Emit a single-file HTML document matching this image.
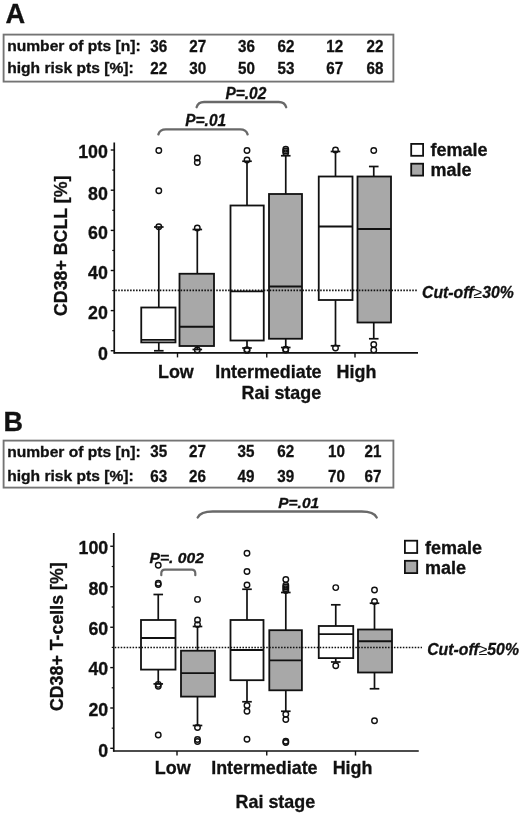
<!DOCTYPE html>
<html lang="en"><head><meta charset="utf-8"><title>CD38 expression by Rai stage</title>
<style>
html,body{margin:0;padding:0;background:#fff;}
body{width:520px;height:815px;overflow:hidden;}
svg{display:block;will-change:transform;opacity:0.999;}
svg text{font-family:'Liberation Sans', Arial, sans-serif;font-weight:bold;fill:#111;stroke:#111;stroke-width:0.3px;}
</style></head>
<body>
<svg width="520" height="815" viewBox="0 0 520 815">
<rect width="520" height="815" fill="#fff"/>
<text x="5.6" y="23" font-size="27.2" text-anchor="start">A</text>
<rect x="3.6" y="34.6" width="389.8" height="47" fill="#fff" stroke="#747474" stroke-width="1.85"/>
<text x="7.2" y="51.0" font-size="14.6" text-anchor="start" textLength="133.45" lengthAdjust="spacingAndGlyphs" stroke-width="0.45">number of pts [n]:</text>
<text x="150.3" y="51.7" font-size="16.3" text-anchor="start" textLength="16.91" lengthAdjust="spacingAndGlyphs" stroke-width="0.4">36</text>
<text x="189.2" y="51.7" font-size="16.3" text-anchor="start" textLength="16.91" lengthAdjust="spacingAndGlyphs" stroke-width="0.4">27</text>
<text x="238" y="51.7" font-size="16.3" text-anchor="start" textLength="16.91" lengthAdjust="spacingAndGlyphs" stroke-width="0.4">36</text>
<text x="277.5" y="51.7" font-size="16.3" text-anchor="start" textLength="16.91" lengthAdjust="spacingAndGlyphs" stroke-width="0.4">62</text>
<text x="326.2" y="51.7" font-size="16.3" text-anchor="start" textLength="16.91" lengthAdjust="spacingAndGlyphs" stroke-width="0.4">12</text>
<text x="366.6" y="51.7" font-size="16.3" text-anchor="start" textLength="16.91" lengthAdjust="spacingAndGlyphs" stroke-width="0.4">22</text>
<text x="7.2" y="72.9" font-size="14.6" text-anchor="start" textLength="126.54" lengthAdjust="spacingAndGlyphs" stroke-width="0.45">high risk pts [%]:</text>
<text x="150.3" y="73.6" font-size="16.3" text-anchor="start" textLength="16.91" lengthAdjust="spacingAndGlyphs" stroke-width="0.4">22</text>
<text x="189.2" y="73.6" font-size="16.3" text-anchor="start" textLength="16.91" lengthAdjust="spacingAndGlyphs" stroke-width="0.4">30</text>
<text x="238" y="73.6" font-size="16.3" text-anchor="start" textLength="16.91" lengthAdjust="spacingAndGlyphs" stroke-width="0.4">50</text>
<text x="277.5" y="73.6" font-size="16.3" text-anchor="start" textLength="16.91" lengthAdjust="spacingAndGlyphs" stroke-width="0.4">53</text>
<text x="326.2" y="73.6" font-size="16.3" text-anchor="start" textLength="16.91" lengthAdjust="spacingAndGlyphs" stroke-width="0.4">67</text>
<text x="366.6" y="73.6" font-size="16.3" text-anchor="start" textLength="16.91" lengthAdjust="spacingAndGlyphs" stroke-width="0.4">68</text>
<text x="225.4" y="98.5" font-size="15.8" text-anchor="start" font-style="italic" textLength="40.94" lengthAdjust="spacingAndGlyphs">P=.02</text>
<path d="M196.6,107.2 C197.50,103.98 200.35,102 204.1,102 L278.7,102 C282.45,102 285.30,103.98 286.2,107.2" fill="none" stroke="#696969" stroke-width="2.35" stroke-linecap="round"/>
<text x="185.2" y="126.3" font-size="15.8" text-anchor="start" font-style="italic" textLength="40.94" lengthAdjust="spacingAndGlyphs">P=.01</text>
<path d="M158.4,134.3 C159.30,131.26 162.15,129.4 165.9,129.4 L240.1,129.4 C243.85,129.4 246.70,131.26 247.6,134.3" fill="none" stroke="#696969" stroke-width="2.35" stroke-linecap="round"/>
<line x1="114.25" y1="142.5" x2="114.25" y2="353.65" stroke="#111" stroke-width="1.7"/>
<line x1="113.75" y1="352.9" x2="418" y2="352.9" stroke="#111" stroke-width="1.7"/>
<line x1="110.75" y1="150" x2="114.25" y2="150" stroke="#111" stroke-width="1.4"/>
<line x1="110.75" y1="190.2" x2="114.25" y2="190.2" stroke="#111" stroke-width="1.4"/>
<line x1="110.75" y1="230.4" x2="114.25" y2="230.4" stroke="#111" stroke-width="1.4"/>
<line x1="110.75" y1="270.5" x2="114.25" y2="270.5" stroke="#111" stroke-width="1.4"/>
<line x1="110.75" y1="310.6" x2="114.25" y2="310.6" stroke="#111" stroke-width="1.4"/>
<line x1="110.75" y1="350.75" x2="114.25" y2="350.75" stroke="#111" stroke-width="1.4"/>
<line x1="112.25" y1="170.1" x2="114.25" y2="170.1" stroke="#111" stroke-width="1.2"/>
<line x1="112.25" y1="210.3" x2="114.25" y2="210.3" stroke="#111" stroke-width="1.2"/>
<line x1="112.25" y1="250.45" x2="114.25" y2="250.45" stroke="#111" stroke-width="1.2"/>
<line x1="112.25" y1="290.55" x2="114.25" y2="290.55" stroke="#111" stroke-width="1.2"/>
<line x1="112.25" y1="330.675" x2="114.25" y2="330.675" stroke="#111" stroke-width="1.2"/>
<line x1="177.5" y1="352.9" x2="177.5" y2="357.4" stroke="#111" stroke-width="1.4"/>
<line x1="266.75" y1="352.9" x2="266.75" y2="357.4" stroke="#111" stroke-width="1.4"/>
<line x1="355" y1="352.9" x2="355" y2="357.4" stroke="#111" stroke-width="1.4"/>
<text x="107.8" y="158.0" font-size="17.8" text-anchor="end">100</text>
<text x="107.8" y="199.5" font-size="17.8" text-anchor="end">80</text>
<text x="107.8" y="238.6" font-size="17.8" text-anchor="end">60</text>
<text x="107.8" y="278.8" font-size="17.8" text-anchor="end">40</text>
<text x="107.8" y="318.90000000000003" font-size="17.8" text-anchor="end">20</text>
<text x="107.8" y="359.95" font-size="17.8" text-anchor="end">0</text>
<text transform="translate(67.1,245.8) rotate(-90)" font-size="17.8" text-anchor="middle">CD38+ BCLL [%]</text>
<line x1="158.8" y1="227" x2="158.8" y2="307.5" stroke="#111" stroke-width="1.7"/>
<line x1="158.8" y1="342.4" x2="158.8" y2="350.75" stroke="#111" stroke-width="1.7"/>
<line x1="154.0" y1="227" x2="163.60000000000002" y2="227" stroke="#111" stroke-width="1.7"/>
<line x1="154.0" y1="350.75" x2="163.60000000000002" y2="350.75" stroke="#111" stroke-width="1.7"/>
<rect x="141.25" y="307.5" width="34.25" height="34.89999999999998" fill="#fff" stroke="#111" stroke-width="1.8"/>
<line x1="141.25" y1="339.8" x2="175.5" y2="339.8" stroke="#111" stroke-width="1.8"/>
<circle cx="158.8" cy="150.5" r="2.75" fill="#fff" fill-opacity="0" stroke="#111" stroke-width="1.4"/>
<circle cx="158.8" cy="190.75" r="2.75" fill="#fff" fill-opacity="0" stroke="#111" stroke-width="1.4"/>
<circle cx="158.8" cy="226.75" r="2.75" fill="#fff" fill-opacity="0" stroke="#111" stroke-width="1.4"/>
<line x1="197.3" y1="229.5" x2="197.3" y2="273.75" stroke="#111" stroke-width="1.7"/>
<line x1="197.3" y1="346" x2="197.3" y2="349.5" stroke="#111" stroke-width="1.7"/>
<line x1="192.5" y1="229.5" x2="202.10000000000002" y2="229.5" stroke="#111" stroke-width="1.7"/>
<line x1="192.5" y1="349.5" x2="202.10000000000002" y2="349.5" stroke="#111" stroke-width="1.7"/>
<rect x="179.5" y="273.75" width="34.5" height="72.25" fill="#a8a8a8" stroke="#111" stroke-width="1.8"/>
<line x1="179.5" y1="326.75" x2="214" y2="326.75" stroke="#111" stroke-width="1.8"/>
<circle cx="197.3" cy="158" r="2.75" fill="#fff" fill-opacity="0" stroke="#111" stroke-width="1.4"/>
<circle cx="197.3" cy="162.5" r="2.75" fill="#fff" fill-opacity="0" stroke="#111" stroke-width="1.4"/>
<circle cx="197.3" cy="228" r="2.75" fill="#fff" fill-opacity="0" stroke="#111" stroke-width="1.4"/>
<circle cx="197.3" cy="350" r="2.75" fill="#fff" fill-opacity="0" stroke="#111" stroke-width="1.4"/>
<line x1="247" y1="161.25" x2="247" y2="205.5" stroke="#111" stroke-width="1.7"/>
<line x1="247" y1="340.5" x2="247" y2="348" stroke="#111" stroke-width="1.7"/>
<line x1="242.2" y1="161.25" x2="251.8" y2="161.25" stroke="#111" stroke-width="1.7"/>
<line x1="242.2" y1="348" x2="251.8" y2="348" stroke="#111" stroke-width="1.7"/>
<rect x="230.5" y="205.5" width="33.25" height="135.0" fill="#fff" stroke="#111" stroke-width="1.8"/>
<line x1="230.5" y1="291.4" x2="263.75" y2="291.4" stroke="#111" stroke-width="1.8"/>
<circle cx="247" cy="150.5" r="2.75" fill="#fff" fill-opacity="0" stroke="#111" stroke-width="1.4"/>
<circle cx="247" cy="160" r="2.75" fill="#fff" fill-opacity="0" stroke="#111" stroke-width="1.4"/>
<circle cx="247" cy="349.6" r="2.75" fill="#fff" fill-opacity="0" stroke="#111" stroke-width="1.4"/>
<circle cx="247" cy="350.4" r="2.75" fill="#fff" fill-opacity="0" stroke="#111" stroke-width="1.4"/>
<line x1="285.75" y1="155.75" x2="285.75" y2="194" stroke="#111" stroke-width="1.7"/>
<line x1="285.75" y1="338.75" x2="285.75" y2="347.5" stroke="#111" stroke-width="1.7"/>
<line x1="280.95" y1="155.75" x2="290.55" y2="155.75" stroke="#111" stroke-width="1.7"/>
<line x1="280.95" y1="347.5" x2="290.55" y2="347.5" stroke="#111" stroke-width="1.7"/>
<rect x="269" y="194" width="33" height="144.75" fill="#a8a8a8" stroke="#111" stroke-width="1.8"/>
<line x1="269" y1="286.5" x2="302" y2="286.5" stroke="#111" stroke-width="1.8"/>
<circle cx="285.75" cy="149.3" r="2.75" fill="#fff" fill-opacity="0" stroke="#111" stroke-width="1.4"/>
<circle cx="285.75" cy="151" r="2.75" fill="#fff" fill-opacity="0" stroke="#111" stroke-width="1.4"/>
<circle cx="285.75" cy="152.8" r="2.75" fill="#fff" fill-opacity="0" stroke="#111" stroke-width="1.4"/>
<circle cx="285.75" cy="349.2" r="2.75" fill="#fff" fill-opacity="0" stroke="#111" stroke-width="1.4"/>
<circle cx="285.75" cy="350" r="2.75" fill="#fff" fill-opacity="0" stroke="#111" stroke-width="1.4"/>
<line x1="335.5" y1="151.5" x2="335.5" y2="176.5" stroke="#111" stroke-width="1.7"/>
<line x1="335.5" y1="300" x2="335.5" y2="345.75" stroke="#111" stroke-width="1.7"/>
<line x1="330.7" y1="151.5" x2="340.3" y2="151.5" stroke="#111" stroke-width="1.7"/>
<line x1="330.7" y1="345.75" x2="340.3" y2="345.75" stroke="#111" stroke-width="1.7"/>
<rect x="318.75" y="176.5" width="33.75" height="123.5" fill="#fff" stroke="#111" stroke-width="1.8"/>
<line x1="318.75" y1="226.5" x2="352.5" y2="226.5" stroke="#111" stroke-width="1.8"/>
<circle cx="335.5" cy="150" r="2.75" fill="#fff" fill-opacity="0" stroke="#111" stroke-width="1.4"/>
<circle cx="335.5" cy="348" r="2.75" fill="#fff" fill-opacity="0" stroke="#111" stroke-width="1.4"/>
<line x1="373.75" y1="166.5" x2="373.75" y2="176.5" stroke="#111" stroke-width="1.7"/>
<line x1="373.75" y1="322.5" x2="373.75" y2="338.75" stroke="#111" stroke-width="1.7"/>
<line x1="368.95" y1="166.5" x2="378.55" y2="166.5" stroke="#111" stroke-width="1.7"/>
<line x1="368.95" y1="338.75" x2="378.55" y2="338.75" stroke="#111" stroke-width="1.7"/>
<rect x="357.5" y="176.5" width="33.5" height="146.0" fill="#a8a8a8" stroke="#111" stroke-width="1.8"/>
<line x1="357.5" y1="229" x2="391" y2="229" stroke="#111" stroke-width="1.8"/>
<circle cx="373.75" cy="150.5" r="2.75" fill="#fff" fill-opacity="0" stroke="#111" stroke-width="1.4"/>
<circle cx="373.75" cy="344.5" r="2.75" fill="#fff" fill-opacity="0" stroke="#111" stroke-width="1.4"/>
<circle cx="373.75" cy="350" r="2.75" fill="#fff" fill-opacity="0" stroke="#111" stroke-width="1.4"/>
<line x1="115.25" y1="290.3" x2="417.5" y2="290.3" stroke="#111" stroke-width="1.65" stroke-dasharray="1.55 1.42"/>
<text x="158" y="377.8" font-size="17.9" text-anchor="start">Low</text>
<text x="215.2" y="377.8" font-size="17.9" text-anchor="start">Intermediate</text>
<text x="336.6" y="377.8" font-size="17.9" text-anchor="start">High</text>
<text x="241.6" y="399.4" font-size="17.9" text-anchor="start">Rai stage</text>
<rect x="411.2" y="143.9" width="11.9" height="11.9" fill="#fff" stroke="#111" stroke-width="1.8"/>
<rect x="411.2" y="163.7" width="11.9" height="11.9" fill="#a8a8a8" stroke="#111" stroke-width="1.8"/>
<text x="430.4" y="156" font-size="18" text-anchor="start">female</text>
<text x="430.4" y="176" font-size="18" text-anchor="start">male</text>
<text x="422" y="297.6" font-size="15.8" font-style="italic">Cut-off<tspan font-weight="normal" stroke-width="0">≥</tspan>30%</text>
<text x="3.6" y="431.2" font-size="27" text-anchor="start">B</text>
<rect x="3.6" y="440.6" width="389.8" height="47" fill="#fff" stroke="#747474" stroke-width="1.85"/>
<text x="7.2" y="457.4" font-size="14.6" text-anchor="start" textLength="133.45" lengthAdjust="spacingAndGlyphs" stroke-width="0.45">number of pts [n]:</text>
<text x="150.3" y="457.1" font-size="16.3" text-anchor="start" textLength="16.91" lengthAdjust="spacingAndGlyphs" stroke-width="0.4">35</text>
<text x="189" y="457.1" font-size="16.3" text-anchor="start" textLength="16.91" lengthAdjust="spacingAndGlyphs" stroke-width="0.4">27</text>
<text x="237.6" y="457.1" font-size="16.3" text-anchor="start" textLength="16.91" lengthAdjust="spacingAndGlyphs" stroke-width="0.4">35</text>
<text x="277.2" y="457.1" font-size="16.3" text-anchor="start" textLength="16.91" lengthAdjust="spacingAndGlyphs" stroke-width="0.4">62</text>
<text x="328" y="457.1" font-size="16.3" text-anchor="start" textLength="16.91" lengthAdjust="spacingAndGlyphs" stroke-width="0.4">10</text>
<text x="364.6" y="457.1" font-size="16.3" text-anchor="start" textLength="16.91" lengthAdjust="spacingAndGlyphs" stroke-width="0.4">21</text>
<text x="7.2" y="480.7" font-size="14.6" text-anchor="start" textLength="126.54" lengthAdjust="spacingAndGlyphs" stroke-width="0.45">high risk pts [%]:</text>
<text x="150.3" y="482.2" font-size="16.3" text-anchor="start" textLength="16.91" lengthAdjust="spacingAndGlyphs" stroke-width="0.4">63</text>
<text x="189" y="482.2" font-size="16.3" text-anchor="start" textLength="16.91" lengthAdjust="spacingAndGlyphs" stroke-width="0.4">26</text>
<text x="237.6" y="482.2" font-size="16.3" text-anchor="start" textLength="16.91" lengthAdjust="spacingAndGlyphs" stroke-width="0.4">49</text>
<text x="277.2" y="482.2" font-size="16.3" text-anchor="start" textLength="16.91" lengthAdjust="spacingAndGlyphs" stroke-width="0.4">39</text>
<text x="328" y="482.2" font-size="16.3" text-anchor="start" textLength="16.91" lengthAdjust="spacingAndGlyphs" stroke-width="0.4">70</text>
<text x="364.6" y="482.2" font-size="16.3" text-anchor="start" textLength="16.91" lengthAdjust="spacingAndGlyphs" stroke-width="0.4">67</text>
<text x="278.2" y="507.6" font-size="15.1" text-anchor="start" font-style="italic" textLength="40.94" lengthAdjust="spacingAndGlyphs">P=.01</text>
<path d="M197.7,517.4 C199.50,513.74 205.20,511.5 212.7,511.5 L361.7,511.5 C369.20,511.5 374.90,513.74 376.7,517.4" fill="none" stroke="#696969" stroke-width="2.35" stroke-linecap="round"/>
<text x="149.6" y="562.5" font-size="14.8" text-anchor="start" font-style="italic" textLength="54.21" lengthAdjust="spacingAndGlyphs">P=. 002</text>
<path d="M161.3,575.2 L161.3,573.3000000000001 Q161.3,569.7 164.9,569.7 L191.70000000000002,569.7 Q195.3,569.7 195.3,573.3000000000001 L195.3,575.2" fill="none" stroke="#696969" stroke-width="2.2" stroke-linecap="round"/>
<line x1="113.75" y1="533" x2="113.75" y2="751.75" stroke="#111" stroke-width="1.7"/>
<line x1="113.25" y1="751.0" x2="418.75" y2="751.0" stroke="#111" stroke-width="1.7"/>
<line x1="110.25" y1="546.25" x2="113.75" y2="546.25" stroke="#111" stroke-width="1.4"/>
<line x1="110.25" y1="586.75" x2="113.75" y2="586.75" stroke="#111" stroke-width="1.4"/>
<line x1="110.25" y1="627.25" x2="113.75" y2="627.25" stroke="#111" stroke-width="1.4"/>
<line x1="110.25" y1="667.6" x2="113.75" y2="667.6" stroke="#111" stroke-width="1.4"/>
<line x1="110.25" y1="708" x2="113.75" y2="708" stroke="#111" stroke-width="1.4"/>
<line x1="110.25" y1="748.3" x2="113.75" y2="748.3" stroke="#111" stroke-width="1.4"/>
<line x1="111.75" y1="566.5" x2="113.75" y2="566.5" stroke="#111" stroke-width="1.2"/>
<line x1="111.75" y1="607.0" x2="113.75" y2="607.0" stroke="#111" stroke-width="1.2"/>
<line x1="111.75" y1="647.425" x2="113.75" y2="647.425" stroke="#111" stroke-width="1.2"/>
<line x1="111.75" y1="687.8" x2="113.75" y2="687.8" stroke="#111" stroke-width="1.2"/>
<line x1="111.75" y1="728.15" x2="113.75" y2="728.15" stroke="#111" stroke-width="1.2"/>
<line x1="177" y1="751.0" x2="177" y2="755.5" stroke="#111" stroke-width="1.4"/>
<line x1="266.75" y1="751.0" x2="266.75" y2="755.5" stroke="#111" stroke-width="1.4"/>
<line x1="355.5" y1="751.0" x2="355.5" y2="755.5" stroke="#111" stroke-width="1.4"/>
<text x="108.2" y="554.45" font-size="17.8" text-anchor="end">100</text>
<text x="108.2" y="594.65" font-size="17.8" text-anchor="end">80</text>
<text x="108.2" y="635.15" font-size="17.8" text-anchor="end">60</text>
<text x="108.2" y="675.1" font-size="17.8" text-anchor="end">40</text>
<text x="108.2" y="716.0" font-size="17.8" text-anchor="end">20</text>
<text x="108.2" y="757.0" font-size="17.8" text-anchor="end">0</text>
<text transform="translate(63.2,636.7) rotate(-90)" font-size="17.8" text-anchor="middle">CD38+ T-cells [%]</text>
<line x1="158.25" y1="594.5" x2="158.25" y2="620" stroke="#111" stroke-width="1.7"/>
<line x1="158.25" y1="669.6" x2="158.25" y2="683.9" stroke="#111" stroke-width="1.7"/>
<line x1="153.45" y1="594.5" x2="163.05" y2="594.5" stroke="#111" stroke-width="1.7"/>
<line x1="153.45" y1="683.9" x2="163.05" y2="683.9" stroke="#111" stroke-width="1.7"/>
<rect x="141" y="620" width="34.5" height="49.60000000000002" fill="#fff" stroke="#111" stroke-width="1.8"/>
<line x1="141" y1="638" x2="175.5" y2="638" stroke="#111" stroke-width="1.8"/>
<circle cx="158.25" cy="565.2" r="2.75" fill="#fff" fill-opacity="0" stroke="#111" stroke-width="1.4"/>
<circle cx="158.25" cy="583.3" r="2.75" fill="#fff" fill-opacity="0" stroke="#111" stroke-width="1.4"/>
<circle cx="158.25" cy="584.6" r="2.75" fill="#fff" fill-opacity="0" stroke="#111" stroke-width="1.4"/>
<circle cx="158.25" cy="684.4" r="2.75" fill="#fff" fill-opacity="0" stroke="#111" stroke-width="1.4"/>
<circle cx="158.25" cy="686.2" r="2.75" fill="#fff" fill-opacity="0" stroke="#111" stroke-width="1.4"/>
<circle cx="158.25" cy="735" r="2.75" fill="#fff" fill-opacity="0" stroke="#111" stroke-width="1.4"/>
<line x1="197.5" y1="626.5" x2="197.5" y2="650.7" stroke="#111" stroke-width="1.7"/>
<line x1="197.5" y1="696.6" x2="197.5" y2="725.5" stroke="#111" stroke-width="1.7"/>
<line x1="192.7" y1="626.5" x2="202.3" y2="626.5" stroke="#111" stroke-width="1.7"/>
<line x1="192.7" y1="725.5" x2="202.3" y2="725.5" stroke="#111" stroke-width="1.7"/>
<rect x="181" y="650.7" width="34" height="45.89999999999998" fill="#a8a8a8" stroke="#111" stroke-width="1.8"/>
<line x1="181" y1="673.2" x2="215" y2="673.2" stroke="#111" stroke-width="1.8"/>
<circle cx="197.5" cy="599.4" r="2.75" fill="#fff" fill-opacity="0" stroke="#111" stroke-width="1.4"/>
<circle cx="197.5" cy="620" r="2.75" fill="#fff" fill-opacity="0" stroke="#111" stroke-width="1.4"/>
<circle cx="197.5" cy="624.6" r="2.75" fill="#fff" fill-opacity="0" stroke="#111" stroke-width="1.4"/>
<circle cx="197.5" cy="727.5" r="2.75" fill="#fff" fill-opacity="0" stroke="#111" stroke-width="1.4"/>
<circle cx="197.5" cy="739.5" r="2.75" fill="#fff" fill-opacity="0" stroke="#111" stroke-width="1.4"/>
<circle cx="197.5" cy="741.5" r="2.75" fill="#fff" fill-opacity="0" stroke="#111" stroke-width="1.4"/>
<line x1="247" y1="589.25" x2="247" y2="620" stroke="#111" stroke-width="1.7"/>
<line x1="247" y1="680.2" x2="247" y2="701.75" stroke="#111" stroke-width="1.7"/>
<line x1="242.2" y1="589.25" x2="251.8" y2="589.25" stroke="#111" stroke-width="1.7"/>
<line x1="242.2" y1="701.75" x2="251.8" y2="701.75" stroke="#111" stroke-width="1.7"/>
<rect x="230.5" y="620" width="33.0" height="60.200000000000045" fill="#fff" stroke="#111" stroke-width="1.8"/>
<line x1="230.5" y1="650" x2="263.5" y2="650" stroke="#111" stroke-width="1.8"/>
<circle cx="247" cy="553.25" r="2.75" fill="#fff" fill-opacity="0" stroke="#111" stroke-width="1.4"/>
<circle cx="247" cy="571.5" r="2.75" fill="#fff" fill-opacity="0" stroke="#111" stroke-width="1.4"/>
<circle cx="247" cy="585" r="2.75" fill="#fff" fill-opacity="0" stroke="#111" stroke-width="1.4"/>
<circle cx="247" cy="705.5" r="2.75" fill="#fff" fill-opacity="0" stroke="#111" stroke-width="1.4"/>
<circle cx="247" cy="711.25" r="2.75" fill="#fff" fill-opacity="0" stroke="#111" stroke-width="1.4"/>
<circle cx="247" cy="739.25" r="2.75" fill="#fff" fill-opacity="0" stroke="#111" stroke-width="1.4"/>
<line x1="285.8" y1="592.5" x2="285.8" y2="630.2" stroke="#111" stroke-width="1.7"/>
<line x1="285.8" y1="690.3" x2="285.8" y2="711.25" stroke="#111" stroke-width="1.7"/>
<line x1="281.0" y1="592.5" x2="290.6" y2="592.5" stroke="#111" stroke-width="1.7"/>
<line x1="281.0" y1="711.25" x2="290.6" y2="711.25" stroke="#111" stroke-width="1.7"/>
<rect x="269.3" y="630.2" width="32.599999999999966" height="60.09999999999991" fill="#a8a8a8" stroke="#111" stroke-width="1.8"/>
<line x1="269.3" y1="660.3" x2="301.9" y2="660.3" stroke="#111" stroke-width="1.8"/>
<circle cx="285.8" cy="579.5" r="2.75" fill="#fff" fill-opacity="0" stroke="#111" stroke-width="1.4"/>
<circle cx="285.8" cy="585.2" r="2.75" fill="#fff" fill-opacity="0" stroke="#111" stroke-width="1.4"/>
<circle cx="285.8" cy="587" r="2.75" fill="#fff" fill-opacity="0" stroke="#111" stroke-width="1.4"/>
<circle cx="285.8" cy="588.8" r="2.75" fill="#fff" fill-opacity="0" stroke="#111" stroke-width="1.4"/>
<circle cx="285.8" cy="590.6" r="2.75" fill="#fff" fill-opacity="0" stroke="#111" stroke-width="1.4"/>
<circle cx="285.8" cy="714.25" r="2.75" fill="#fff" fill-opacity="0" stroke="#111" stroke-width="1.4"/>
<circle cx="285.8" cy="719.5" r="2.75" fill="#fff" fill-opacity="0" stroke="#111" stroke-width="1.4"/>
<circle cx="285.8" cy="741.25" r="2.75" fill="#fff" fill-opacity="0" stroke="#111" stroke-width="1.4"/>
<circle cx="285.8" cy="742.5" r="2.75" fill="#fff" fill-opacity="0" stroke="#111" stroke-width="1.4"/>
<line x1="335.75" y1="604.8" x2="335.75" y2="626" stroke="#111" stroke-width="1.7"/>
<line x1="335.75" y1="658.1" x2="335.75" y2="662" stroke="#111" stroke-width="1.7"/>
<line x1="330.95" y1="604.8" x2="340.55" y2="604.8" stroke="#111" stroke-width="1.7"/>
<line x1="330.95" y1="662" x2="340.55" y2="662" stroke="#111" stroke-width="1.7"/>
<rect x="318.75" y="626" width="34.5" height="32.10000000000002" fill="#fff" stroke="#111" stroke-width="1.8"/>
<line x1="318.75" y1="634.2" x2="353.25" y2="634.2" stroke="#111" stroke-width="1.8"/>
<circle cx="335.75" cy="587.6" r="2.75" fill="#fff" fill-opacity="0" stroke="#111" stroke-width="1.4"/>
<circle cx="335.75" cy="665.8" r="2.75" fill="#fff" fill-opacity="0" stroke="#111" stroke-width="1.4"/>
<line x1="374.5" y1="603.25" x2="374.5" y2="629.5" stroke="#111" stroke-width="1.7"/>
<line x1="374.5" y1="672.5" x2="374.5" y2="688.75" stroke="#111" stroke-width="1.7"/>
<line x1="369.7" y1="603.25" x2="379.3" y2="603.25" stroke="#111" stroke-width="1.7"/>
<line x1="369.7" y1="688.75" x2="379.3" y2="688.75" stroke="#111" stroke-width="1.7"/>
<rect x="358" y="629.5" width="34" height="43.0" fill="#a8a8a8" stroke="#111" stroke-width="1.8"/>
<line x1="358" y1="641.25" x2="392" y2="641.25" stroke="#111" stroke-width="1.8"/>
<circle cx="374.5" cy="590" r="2.75" fill="#fff" fill-opacity="0" stroke="#111" stroke-width="1.4"/>
<circle cx="374.5" cy="601.5" r="2.75" fill="#fff" fill-opacity="0" stroke="#111" stroke-width="1.4"/>
<circle cx="374.5" cy="720.75" r="2.75" fill="#fff" fill-opacity="0" stroke="#111" stroke-width="1.4"/>
<line x1="114.75" y1="647.5" x2="422" y2="647.5" stroke="#111" stroke-width="1.65" stroke-dasharray="1.55 1.42"/>
<text x="154.8" y="773.9" font-size="17.9" text-anchor="start">Low</text>
<text x="211.2" y="773.9" font-size="17.9" text-anchor="start">Intermediate</text>
<text x="332.7" y="773.9" font-size="17.9" text-anchor="start">High</text>
<text x="235.6" y="808.2" font-size="17.9" text-anchor="start">Rai stage</text>
<rect x="404.9" y="540.7" width="12.3" height="12.3" fill="#fff" stroke="#111" stroke-width="1.8"/>
<rect x="404.9" y="560.8" width="12.3" height="12.3" fill="#a8a8a8" stroke="#111" stroke-width="1.8"/>
<text x="425.1" y="553.7" font-size="18" text-anchor="start">female</text>
<text x="425.1" y="573.8" font-size="18" text-anchor="start">male</text>
<text x="427.2" y="654.6" font-size="15.8" font-style="italic">Cut-off<tspan font-weight="normal" stroke-width="0">≥</tspan>50%</text>
</svg>
</body></html>
